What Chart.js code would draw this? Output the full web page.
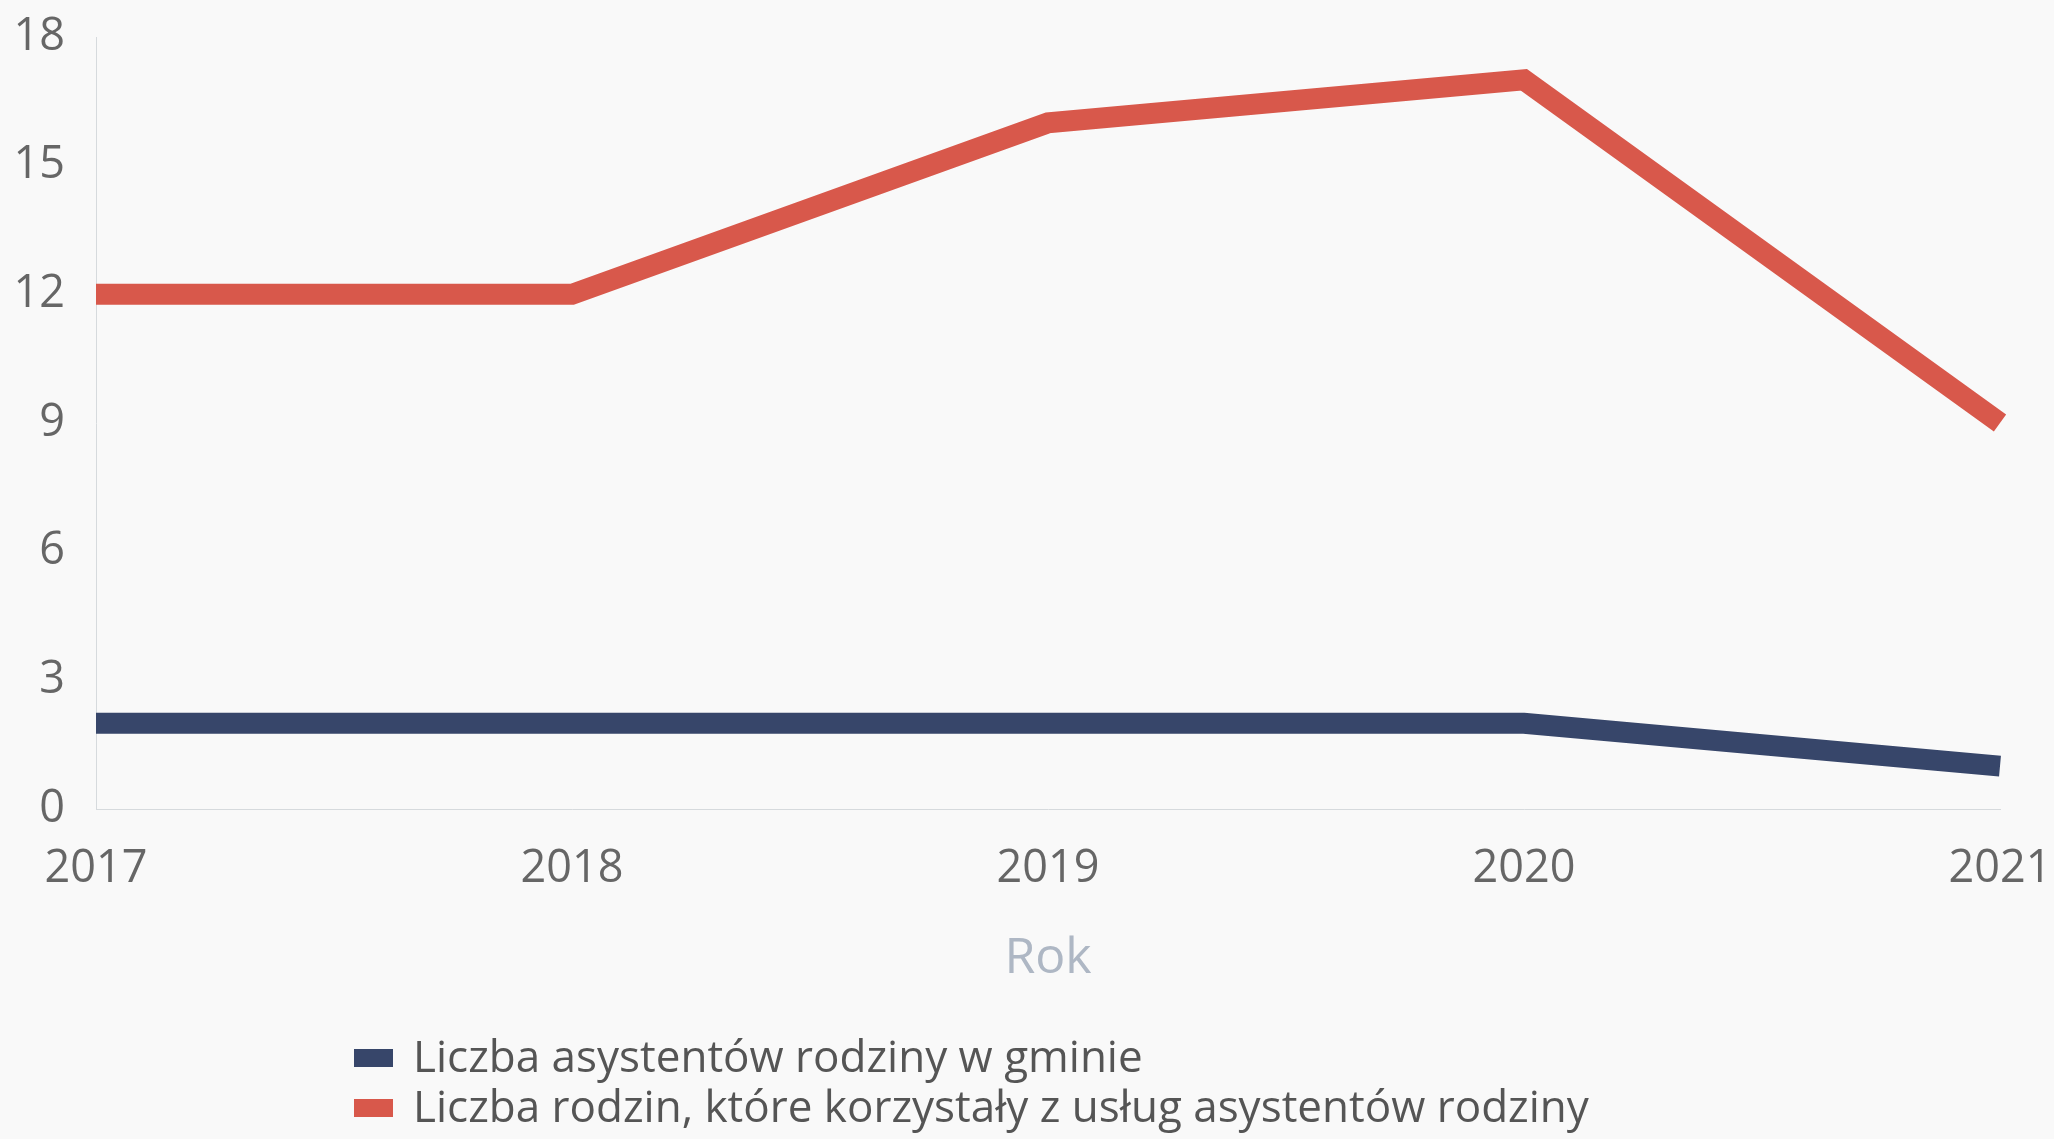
<!DOCTYPE html>
<html>
<head>
<meta charset="utf-8">
<script src="https://cdn.jsdelivr.net/npm/chart.js@4"></script>
<style>
  html, body { margin: 0; padding: 0; background: #f9f9f9; }
  #wrap { position: relative; width: 2054px; height: 1139px; }
  #legend { position: absolute; left: 354px; top: 1030px; font-family: "Open Sans", sans-serif; font-size: 44px; color: #555; }
  #legend div { height: 50px; line-height: 50px; white-space: nowrap; }
  #legend span.box { display: inline-block; width: 39px; height: 18px; margin-right: 20px; vertical-align: middle; position: relative; top: -2px; }
</style>
</head>
<body>
<div id="wrap">
  <canvas id="lineChart" width="2054" height="1139"></canvas>
  <div id="legend"></div>
</div>
<script>
    var years = ['2017', '2018', '2019', '2020', '2021'];
    var asystenci = [2, 2, 2, 2, 1];
    var rodziny = [12, 12, 16, 17, 9];
    var seriesNames = ['Liczba asystentów rodziny w gminie', 'Liczba rodzin, które korzystały z usług asystentów rodziny'];
    var colors = ['#37466a', '#d8584b'];

    var lineChart = new Chart(document.getElementById('lineChart'), {
        type: 'line',
        data: {
            labels: years,
            datasets: [{
                label: seriesNames[0],
                data: asystenci,
                borderColor: colors[0],
                backgroundColor: colors[0],
                borderWidth: 21,
                pointRadius: 0,
                tension: 0
            }, {
                label: seriesNames[1],
                data: rodziny,
                borderColor: colors[1],
                backgroundColor: colors[1],
                borderWidth: 21,
                pointRadius: 0,
                tension: 0
            }]
        },
        options: {
            responsive: false,
            animation: false,
            layout: {
                padding: { left: 16, right: 54, top: 37, bottom: 150 }
            },
            plugins: {
                legend: { display: false },
                tooltip: { enabled: false }
            },
            scales: {
                y: {
                    min: 0,
                    max: 18,
                    afterFit: function(scale) {
                        scale.width = 80;
                        scale.paddingTop = 0;
                        scale.paddingBottom = 0;
                    },
                    ticks: {
                        stepSize: 3,
                        padding: 31,
                        color: '#666',
                        font: { family: 'Open Sans', size: 45 }
                    },
                    grid: { display: false, drawTicks: false },
                    border: { display: true, color: '#d6dadd', width: 1, dash: [2, 2] }
                },
                x: {
                    afterFit: function(scale) {
                        scale.paddingLeft = 0;
                        scale.paddingRight = 0;
                    },
                    ticks: {
                        padding: 33,
                        color: '#666',
                        maxRotation: 0,
                        font: { family: 'Open Sans', size: 45 }
                    },
                    grid: { display: false, drawTicks: false },
                    border: { display: true, color: '#d6dadd', width: 1, dash: [2, 2] },
                    title: {
                        display: true,
                        text: 'Rok',
                        color: '#aeb7c4',
                        padding: { top: 0, bottom: 0 },
                        font: { family: 'Open Sans', size: 50 }
                    }
                }
            }
        }
    });

    // legenda jako lista pod wykresem
    var legendEl = document.getElementById('legend');
    lineChart.data.datasets.forEach(function(ds) {
        var row = document.createElement('div');
        var box = document.createElement('span');
        box.className = 'box';
        box.style.background = ds.borderColor;
        row.appendChild(box);
        row.appendChild(document.createTextNode(ds.label));
        legendEl.appendChild(row);
    });
</script>
</body>
</html>
